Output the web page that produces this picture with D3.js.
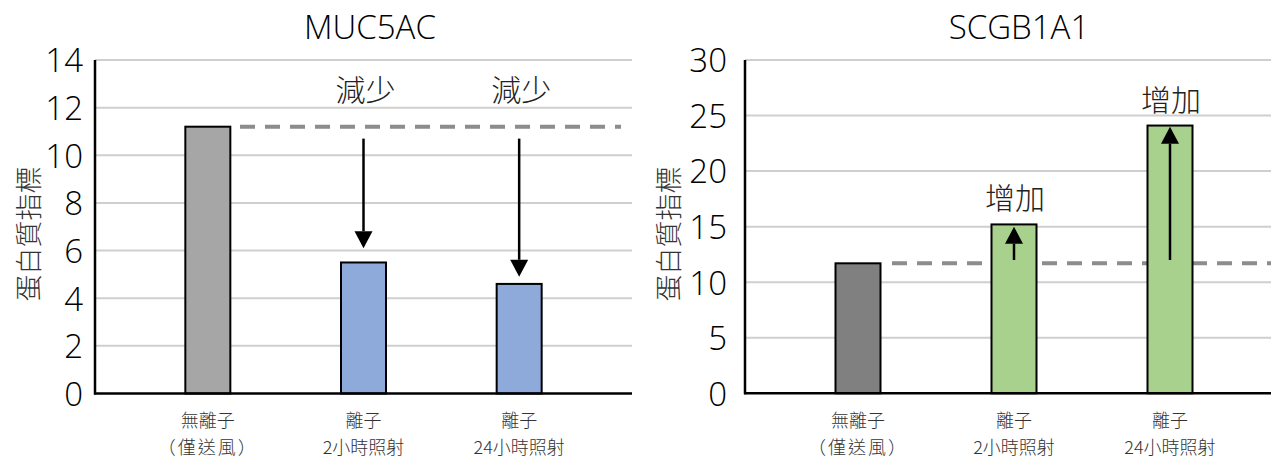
<!DOCTYPE html>
<html>
<head>
<meta charset="utf-8">
<script src="https://cdn.jsdelivr.net/npm/d3@7"></script>
<style>
  html, body { margin: 0; padding: 0; background: #fff; }
  svg { display: block; }
  .cjk { font-family: "Noto Sans CJK TC", "Noto Sans CJK JP", sans-serif; font-weight: 300; }
  .lat { font-family: "Open Sans", "Noto Sans", sans-serif; font-weight: 300; }
</style>
</head>
<body>
<svg id="chart" width="1271" height="459"></svg>
<script>
// Category labels (two lines each), shared by both panels
const categoryLines = [
  ["無離子", "（僅送風）"],
  ["離子", "2小時照射"],
  ["離子", "24小時照射"]
];
const categoryKeys = ["none", "ion2h", "ion24h"];

// MUC5AC panel
const mucTitle = "MUC5AC";
const mucValues = [11.2, 5.5, 4.6];
const mucTicks = [0, 2, 4, 6, 8, 10, 12, 14];
const mucColors = ["#a6a6a6", "#8eaadb", "#8eaadb"];
const mucNote = "減少";
// arrows: [category index, start value, end value]
const mucArrows = [[1, 10.7, 6.1], [2, 10.7, 4.9]];

// SCGB1A1 panel
const scgTitle = "SCGB1A1";
const scgValues = [11.7, 15.2, 24.1];
const scgTicks = [0, 5, 10, 15, 20, 25, 30];
const scgColors = ["#808080", "#a9d18e", "#a9d18e"];
const scgNote = "增加";
const scgArrows = [[1, 12.0, 15.0], [2, 12.0, 24.0]];

const yTitle = "蛋白質指標";

const svg = d3.select("#chart");

function drawPanel(o) {
  const g = svg.append("g");
  const x = d3.scaleBand().domain(categoryKeys).range(o.xRange);
  const y = d3.scaleLinear().domain([0, o.ticks[o.ticks.length - 1]]).range([o.bottom, o.top]);
  const barW = 45;
  const cx = i => x(categoryKeys[i]) + x.bandwidth() / 2;

  // gridlines
  g.selectAll("line.grid")
    .data(o.ticks.filter(t => t > 0))
    .join("line")
    .attr("x1", o.axisX).attr("x2", o.right)
    .attr("y1", d => y(d)).attr("y2", d => y(d))
    .attr("stroke", "#cfcfcf").attr("stroke-width", 2);

  // y tick labels
  const ax = g.append("g")
    .attr("transform", `translate(${o.axisX},0)`)
    .call(d3.axisLeft(y).tickValues(o.ticks).tickSize(0).tickPadding(o.tickPad).tickFormat(d3.format("d")));
  ax.select(".domain").remove();
  ax.selectAll("text")
    .attr("class", "lat")
    .attr("font-size", 33)
    .attr("fill", "#000")
    .attr("dy", "0.36em");

  // reference dashed line at the first bar's value
  g.append("line")
    .attr("x1", o.dashStart).attr("x2", o.dashEnd)
    .attr("y1", y(o.values[0])).attr("y2", y(o.values[0]))
    .attr("stroke", "#8c8c8c").attr("stroke-width", 4)
    .attr("stroke-dasharray", "15,10");

  // bars
  g.selectAll("rect.bar")
    .data(o.values)
    .join("rect")
    .attr("x", (d, i) => cx(i) - barW / 2)
    .attr("width", barW)
    .attr("y", d => y(d))
    .attr("height", d => y(0) - y(d))
    .attr("fill", (d, i) => o.colors[i])
    .attr("stroke", "#000").attr("stroke-width", 2);

  // axis lines
  g.append("line")
    .attr("x1", o.axisX).attr("x2", o.axisX)
    .attr("y1", y(o.ticks[o.ticks.length - 1])).attr("y2", y(0) + 1)
    .attr("stroke", "#000").attr("stroke-width", 2.5);
  g.append("line")
    .attr("x1", o.axisX - 1).attr("x2", o.right)
    .attr("y1", y(0)).attr("y2", y(0))
    .attr("stroke", "#000").attr("stroke-width", 2.5);

  // arrows
  o.arrows.forEach(([ci, from, to]) => {
    const ax0 = cx(ci);
    const y0 = y(from), y1 = y(to);
    const dir = y1 > y0 ? 1 : -1;
    const headLen = 17, headHalf = 9;
    g.append("line")
      .attr("x1", ax0).attr("x2", ax0)
      .attr("y1", y0).attr("y2", y1 - dir * headLen)
      .attr("stroke", "#000").attr("stroke-width", 2.5);
    g.append("path")
      .attr("d", `M${ax0},${y1} L${ax0 - headHalf},${y1 - dir * headLen} L${ax0 + headHalf},${y1 - dir * headLen} Z`)
      .attr("fill", "#000");
  });

  // annotation labels
  o.arrows.forEach(([ci]) => {
    g.append("text")
      .attr("class", "cjk")
      .attr("x", cx(ci) + o.noteDx).attr("y", o.noteY(y, ci))
      .attr("text-anchor", "middle").attr("dominant-baseline", "central")
      .attr("font-size", 30).attr("fill", "#222")
      .text(o.note);
  });

  // category labels
  categoryLines.forEach((lines, i) => {
    lines.forEach((t, j) => {
      g.append("text")
        .attr("class", "cjk")
        .attr("x", cx(i)).attr("y", 419 + j * 27)
        .attr("text-anchor", "middle").attr("dominant-baseline", "central")
        .attr("font-size", 18).attr("fill", "#333")
        .attr("letter-spacing", t.startsWith("（") ? 2 : 0)
        .text(t);
    });
  });

  // title
  g.append("text")
    .attr("class", "lat")
    .attr("x", o.titleX).attr("y", 39)
    .attr("text-anchor", "middle")
    .attr("font-size", 33).attr("fill", "#000")
    .text(o.title);

  // y axis title
  g.append("text")
    .attr("class", "cjk")
    .attr("transform", `translate(${o.yTitleX},234) rotate(-90)`)
    .attr("text-anchor", "middle").attr("dominant-baseline", "central")
    .attr("font-size", 27).attr("fill", "#333")
    .text(yTitle);
}

drawPanel({
  title: mucTitle, values: mucValues, ticks: mucTicks, colors: mucColors,
  arrows: mucArrows, note: mucNote, noteDx: 2,
  noteY: (y) => y(mucValues[0]) - 39,
  xRange: [130, 597], axisX: 95, right: 632, top: 60, bottom: 393.5,
  tickPad: 12, dashStart: 240, dashEnd: 621, titleX: 370, yTitleX: 27
});

drawPanel({
  title: scgTitle, values: scgValues, ticks: scgTicks, colors: scgColors,
  arrows: scgArrows, note: scgNote, noteDx: 1,
  noteY: (y, ci) => y(scgValues[ci]) - 28,
  xRange: [780, 1248], axisX: 745, right: 1271, top: 60, bottom: 393.3,
  tickPad: 18, dashStart: 892, dashEnd: 1271, titleX: 1019, yTitleX: 667
});
</script>
</body>
</html>
